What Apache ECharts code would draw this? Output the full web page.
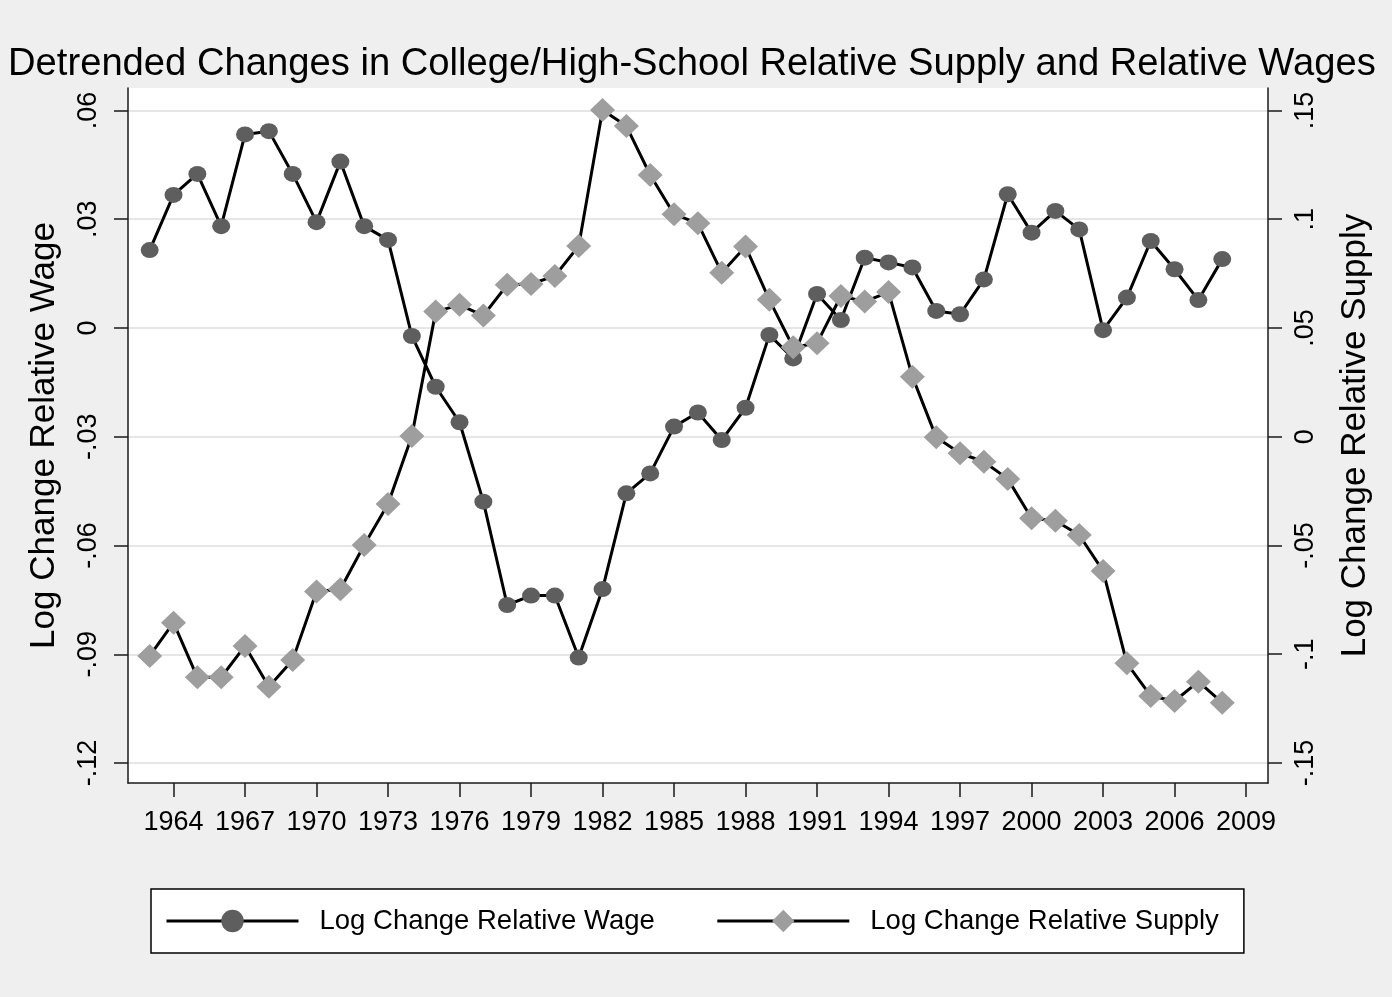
<!DOCTYPE html>
<html>
<head>
<meta charset="utf-8">
<title>Detrended Changes in College/High-School Relative Supply and Relative Wages</title>
<script src="https://cdn.jsdelivr.net/npm/echarts@6/dist/echarts.min.js"></script>
<style>
  html, body { margin: 0; padding: 0; background: #ffffff; }
  #chart { position: absolute; left: 0; top: 0; width: 1392px; height: 997px; }
</style>
</head>
<body>
<div id="chart"></div>
<script>
// Years covered by the series
const years = [
  1963, 1964, 1965, 1966, 1967, 1968, 1969, 1970, 1971, 1972,
  1973, 1974, 1975, 1976, 1977, 1978, 1979, 1980, 1981, 1982,
  1983, 1984, 1985, 1986, 1987, 1988, 1989, 1990, 1991, 1992,
  1993, 1994, 1995, 1996, 1997, 1998, 1999, 2000, 2001, 2002,
  2003, 2004, 2005, 2006, 2007, 2008
];

// Detrended log change in college/high-school relative wage (left axis)
const relativeWage = [
  0.0215, 0.0367, 0.0425, 0.0281, 0.0534, 0.0543, 0.0425, 0.0292, 0.0459, 0.0281,
  0.0243, -0.0022, -0.0162, -0.0260, -0.0479, -0.0764, -0.0738, -0.0738, -0.0909, -0.0720,
  -0.0456, -0.0401, -0.0272, -0.0233, -0.0309, -0.0220, -0.0019, -0.0084, 0.0094, 0.0022,
  0.0194, 0.0181, 0.0167, 0.0047, 0.0038, 0.0134, 0.0369, 0.0263, 0.0323, 0.0272,
  -0.0006, 0.0084, 0.0240, 0.0162, 0.0077, 0.0190
];

// Detrended log change in college/high-school relative supply (right axis)
const relativeSupply = [
  -0.1008, -0.0855, -0.1106, -0.1106, -0.0962, -0.1149, -0.1026, -0.0712, -0.0701, -0.0498,
  -0.0309, 0.0003, 0.0575, 0.0606, 0.0557, 0.0698, 0.0702, 0.0739, 0.0877, 0.1502,
  0.1428, 0.1203, 0.1023, 0.0981, 0.0754, 0.0874, 0.0629, 0.0411, 0.0430, 0.0647,
  0.0621, 0.0665, 0.0276, -0.0003, -0.0076, -0.0115, -0.0194, -0.0375, -0.0386, -0.0452,
  -0.0617, -0.1042, -0.1192, -0.1215, -0.1126, -0.1223
];

// Tick positions
const yearTicks = [1964, 1967, 1970, 1973, 1976, 1979, 1982, 1985, 1988, 1991, 1994, 1997, 2000, 2003, 2006, 2009];
const wageTicks = [-0.12, -0.09, -0.06, -0.03, 0, 0.03, 0.06];
const supplyTicks = [-0.15, -0.1, -0.05, 0, 0.05, 0.1, 0.15];

// Stata-style number labels: ".06", "-.03", "0"
function stataNum(v) {
  const r = Math.round(v * 1000) / 1000;
  return String(r).replace(/^(-?)0\./, '$1.');
}

const FONT = '"Liberation Sans", Arial, Helvetica, sans-serif';
const INK = '#000000';

const chart = echarts.init(document.getElementById('chart'), null, { renderer: 'canvas' });

chart.setOption({
  animation: false,
  backgroundColor: '#efefef',
  title: {
    text: 'Detrended Changes in College/High-School Relative Supply and Relative Wages',
    left: 3,
    top: 40,
    textStyle: { fontFamily: FONT, fontSize: 38.2, fontWeight: 'normal', color: INK }
  },
  legend: {
    left: 151,
    top: 889,
    orient: 'horizontal',
    backgroundColor: '#ffffff',
    borderColor: '#000000',
    borderWidth: 1.5,
    borderRadius: 0,
    padding: [18, 25, 18, 14],
    itemWidth: 132,
    itemHeight: 28,
    itemGap: 61,
    lineStyle: { width: 3, color: INK },
    textStyle: { fontFamily: FONT, fontSize: 27.5, color: INK, padding: [0, 0, 0, 16] },
    data: ['Log Change Relative Wage', 'Log Change Relative Supply']
  },
  grid: {
    left: 128,
    right: 124,
    top: 88,
    bottom: 214,
    show: true,
    backgroundColor: '#ffffff',
    borderWidth: 0,
    containLabel: false
  },
  xAxis: {
    type: 'value',
    min: 1962.09,
    max: 2009.92,
    axisLine: { show: true, onZero: false, lineStyle: { color: '#1a1a1a', width: 1.5 } },
    axisTick: { show: true, length: 14, customValues: yearTicks, lineStyle: { color: '#1a1a1a', width: 1.5 } },
    axisLabel: {
      customValues: yearTicks,
      margin: 26,
      fontFamily: FONT,
      fontSize: 27,
      color: INK,
      formatter: v => String(Math.round(v))
    },
    splitLine: { show: false }
  },
  yAxis: [
    {
      type: 'value',
      position: 'left',
      min: -0.1255,
      max: 0.0662,
      name: 'Log Change Relative Wage',
      nameLocation: 'middle',
      nameRotate: 90,
      nameGap: 66,
      nameTextStyle: { fontFamily: FONT, fontSize: 35, color: INK },
      axisLine: { show: true, onZero: false, lineStyle: { color: '#1a1a1a', width: 1.5 } },
      axisTick: { show: true, length: 14, customValues: wageTicks, lineStyle: { color: '#1a1a1a', width: 1.5 } },
      axisLabel: {
        customValues: wageTicks,
        rotate: 90,
        margin: 26,
        fontFamily: FONT,
        fontSize: 27,
        color: INK,
        formatter: stataNum
      },
      splitLine: { show: true, lineStyle: { color: '#e6e6e6', width: 2 } }
    },
    {
      type: 'value',
      position: 'right',
      min: -0.1592,
      max: 0.1603,
      name: 'Log Change Relative Supply',
      nameLocation: 'middle',
      nameRotate: 90,
      nameGap: 70,
      nameTextStyle: { fontFamily: FONT, fontSize: 35, color: INK },
      axisLine: { show: true, onZero: false, lineStyle: { color: '#1a1a1a', width: 1.5 } },
      axisTick: { show: true, length: 14, customValues: supplyTicks, lineStyle: { color: '#1a1a1a', width: 1.5 } },
      axisLabel: {
        customValues: supplyTicks,
        rotate: 90,
        margin: 24,
        fontFamily: FONT,
        fontSize: 27,
        color: INK,
        formatter: stataNum
      },
      splitLine: { show: false }
    }
  ],
  series: [
    {
      name: 'Log Change Relative Wage',
      type: 'line',
      yAxisIndex: 0,
      data: years.map((y, i) => [y, relativeWage[i]]),
      symbol: 'circle',
      symbolSize: [18, 16],
      showSymbol: true,
      itemStyle: { color: '#5e5e5e', borderWidth: 0 },
      lineStyle: { color: INK, width: 3 },
      emphasis: { disabled: true }
    },
    {
      name: 'Log Change Relative Supply',
      type: 'line',
      yAxisIndex: 1,
      data: years.map((y, i) => [y, relativeSupply[i]]),
      symbol: 'diamond',
      symbolSize: [25, 24],
      showSymbol: true,
      itemStyle: { color: '#9e9e9e', borderWidth: 0 },
      lineStyle: { color: INK, width: 3 },
      emphasis: { disabled: true }
    }
  ]
});
</script>
</body>
</html>
